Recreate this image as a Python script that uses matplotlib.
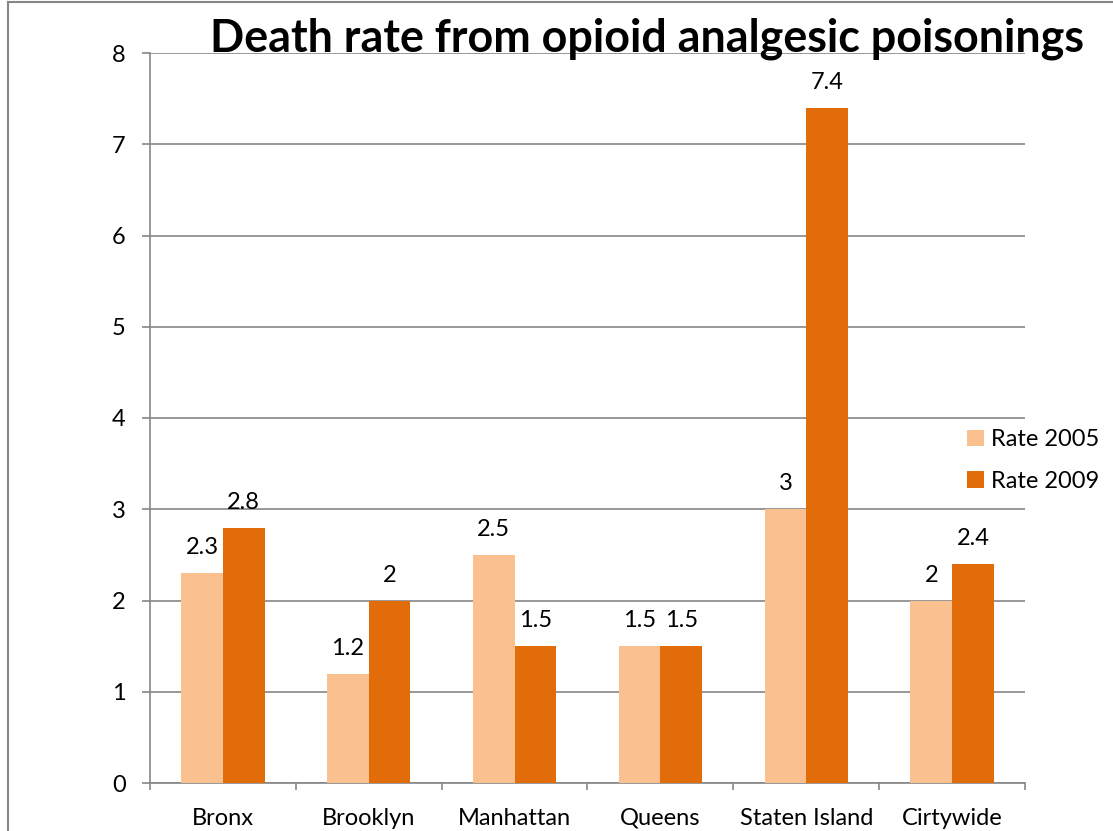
import matplotlib
matplotlib.use("Agg")
import matplotlib.pyplot as plt
from matplotlib.lines import Line2D
import numpy as np

plt.rcParams['font.family'] = ['Lato', 'DejaVu Sans']

categories = ["Bronx", "Brooklyn", "Manhattan", "Queens", "Staten Island", "Cirtywide"]
rate_2005 = [2.3, 1.2, 2.5, 1.5, 3, 2]
rate_2009 = [2.8, 2, 1.5, 1.5, 7.4, 2.4]
label_2005 = ["2.3", "1.2", "2.5", "1.5", "3", "2"]
label_2009 = ["2.8", "2", "1.5", "1.5", "7.4", "2.4"]
series_names = ["Rate 2005", "Rate 2009"]
title = "Death rate from opioid analgesic poisonings"

light = "#FAC090"
dark = "#E36C0A"
grey = "#868686"
FS = 17

W, H = 1113, 831
fig = plt.figure(figsize=(W / 100, H / 100), dpi=100)
ax = fig.add_axes([150 / W, 1 - 783 / H, (1025 - 150) / W, (783 - 53) / H])

x = np.arange(len(categories))
bw = 1 / 3.5
b1 = ax.bar(x - bw / 2, rate_2005, bw, color=light, label=series_names[0], zorder=3)
b2 = ax.bar(x + bw / 2, rate_2009, bw, color=dark, label=series_names[1], zorder=3)

for bars, labels in ((b1, label_2005), (b2, label_2009)):
    for rect, txt in zip(bars, labels):
        ax.annotate(txt, (rect.get_x() + rect.get_width() / 2, rect.get_height()),
                    xytext=(0, 13.5), textcoords="offset points",
                    ha="center", va="baseline", fontsize=FS, color="black")

ax.set_xlim(-0.5, len(categories) - 0.5)
ax.set_ylim(0, 8)
ax.set_yticks(range(0, 9))
ax.yaxis.grid(True, color=grey, linewidth=1.2, zorder=0)
ax.set_axisbelow(True)

ax.set_xticks(x)
ax.set_xticklabels(categories, fontsize=FS)
ax.set_xticks(np.arange(-0.5, len(categories)), minor=True)
ax.tick_params(axis="x", which="major", length=0, pad=18)
ax.tick_params(axis="x", which="minor", length=5, width=1.2, color=grey, direction="out")
ax.tick_params(axis="y", length=5.5, width=1.2, color=grey, direction="out", pad=12, labelsize=FS)

for side in ("top", "right"):
    ax.spines[side].set_visible(False)
for side in ("left", "bottom"):
    ax.spines[side].set_color(grey)
    ax.spines[side].set_linewidth(1.2)

fig.legend(handles=[b1, b2], labels=series_names, loc="center left",
           bbox_to_anchor=(967 / W, 1 - 460.5 / H), bbox_transform=fig.transFigure,
           frameon=False, fontsize=FS, handlelength=0.7, handleheight=0.7,
           handletextpad=0.3, labelspacing=0.85, borderpad=0, borderaxespad=0)

fig.text(647 / W, 1 - 52 / H, title, ha="center", va="baseline",
         fontsize=32.3, fontweight="bold", color="black")

# outer frame lines (top and left edges)
fig.add_artist(Line2D([8 / W, 1], [1 - 2 / H, 1 - 2 / H], transform=fig.transFigure,
                      color=grey, linewidth=1.5))
fig.add_artist(Line2D([8 / W, 8 / W], [0, 1 - 2 / H], transform=fig.transFigure,
                      color=grey, linewidth=1.5))

fig.savefig("out.png", dpi=100, facecolor="white")
